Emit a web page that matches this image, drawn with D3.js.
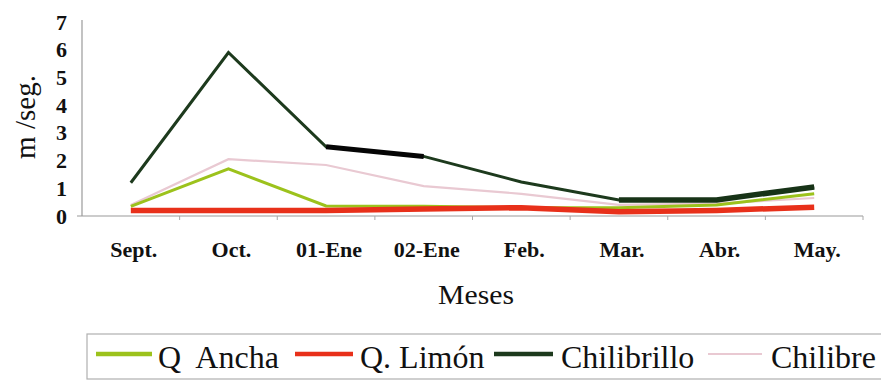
<!DOCTYPE html>
<html>
<head>
<meta charset="utf-8">
<script src="https://cdn.jsdelivr.net/npm/d3@7"></script>
<style>
  html, body { margin: 0; padding: 0; background: #fff; }
  svg { display: block; }
  svg text { font-family: "Liberation Serif", "DejaVu Serif", serif !important; fill: #111; }
</style>
</head>
<body>
<svg id="chart" width="881" height="382" font-family="Liberation Serif"></svg>
<script>
// Velocidad media de la corriente por mes (m/seg.)
const months = ["Sept.", "Oct.", "01-Ene", "02-Ene", "Feb.", "Mar.", "Abr.", "May."];
const qAncha      = [0.35, 1.7, 0.36, 0.35, 0.3, 0.3, 0.4, 0.8];
const qLimon      = [0.2, 0.2, 0.2, 0.25, 0.3, 0.15, 0.2, 0.32];
const chilibrillo = [1.2, 5.9, 2.5, 2.15, 1.23, 0.58, 0.58, 1.05];
const chilibre    = [0.4, 2.05, 1.84, 1.08, 0.8, 0.4, 0.45, 0.65];
const yTicks = [0, 1, 2, 3, 4, 5, 6, 7];

const series = [
  { name: "Q  Ancha",    values: qAncha,      color: "#9cc21c", width: 3 },
  { name: "Q. Limón",    values: qLimon,      color: "#e8301a", width: 5.5 },
  { name: "Chilibrillo", values: chilibrillo, color: "#1d3a1d", width: 3 },
  { name: "Chilibre",    values: chilibre,    color: "#e9c9d2", width: 2.2 }
];

const svg = d3.select("#chart");
const SERIF = "'Liberation Serif', serif";

const x = d3.scaleBand().domain(months).range([82, 863]);
const cx = d => x(d) + x.bandwidth() / 2;
const y = d3.scaleLinear().domain([0, 7]).range([216, 22]);

// Y axis
const yAxis = svg.append("g").attr("transform", "translate(82,0)")
  .call(d3.axisLeft(y).tickValues(yTicks).tickFormat(d3.format("d")).tickSize(0).tickPadding(15));
yAxis.attr("font-family", null).attr("font-size", null);
yAxis.select(".domain").attr("stroke", "#9a9a9a").attr("stroke-width", 1.2)
  .attr("d", `M0,20V${y(0)}`);
yAxis.selectAll("text")
  .style("font-family", SERIF)
  .style("font-size", "22px").style("font-weight", "bold").attr("fill", "#111");

// X axis: category boundaries as ticks, labels at band centres
const xAxis = svg.append("g").attr("transform", `translate(0,${y(0)})`);
xAxis.append("line").attr("x1", 77).attr("x2", 863).attr("y1", 0).attr("y2", 0)
  .attr("stroke", "#9a9a9a").attr("stroke-width", 1.2);
xAxis.selectAll("line.b").data(months.slice(1).concat(["end"]))
  .join("line").attr("class", "b")
  .attr("x1", d => d === "end" ? 863 : x(d)).attr("x2", d => d === "end" ? 863 : x(d))
  .attr("y1", 0).attr("y2", 4).attr("stroke", "#a8a8a8");
xAxis.selectAll("text").data(months).join("text")
  .attr("x", d => cx(d) + 3).attr("y", 41)
  .attr("text-anchor", "middle")
  .style("font-family", SERIF)
  .style("font-size", "22px").style("font-weight", "bold")
  .text(d => d);

// Axis titles
svg.append("text")
  .attr("transform", "translate(476,304) scale(1.1,1)")
  .attr("text-anchor", "middle")
  .style("font-family", SERIF).style("font-size", "27px").text("Meses");
svg.append("text").attr("transform", "translate(35,117) rotate(-90)")
  .attr("text-anchor", "middle")
  .style("font-family", SERIF).style("font-size", "29px").text("m /seg.");

// Lines
const line = d3.line().x((d, i) => cx(months[i])).y(d => y(d));
const order = [3, 0, 2, 1]; // Chilibre bajo, Q. Limón encima
order.forEach(k => {
  const s = series[k];
  svg.append("path").datum(s.values)
    .attr("d", line).attr("fill", "none")
    .attr("stroke", s.color).attr("stroke-width", s.width)
    .attr("stroke-linejoin", "miter").attr("stroke-linecap", "butt");
});

// Tramos remarcados de Chilibrillo
const segLine = d3.line().x(d => cx(months[d])).y(d => y(chilibrillo[d]));
svg.append("path").attr("d", segLine([2, 3])).attr("fill", "none")
  .attr("stroke", "#050505").attr("stroke-width", 5);
svg.append("path").attr("d", segLine([5, 6, 7]))
  .attr("fill", "none").attr("stroke", "#173317").attr("stroke-width", 5.5);

// Legend
const lg = svg.append("g");
lg.append("rect").attr("x", 87).attr("y", 334).attr("width", 820).attr("height", 45)
  .attr("fill", "none").attr("stroke", "#b0b0b0").attr("stroke-width", 1.2);
const legendItems = [
  { s: series[0], x1: 96,  x2: 152, tx: 158 },
  { s: series[1], x1: 295, x2: 353, tx: 360 },
  { s: series[2], x1: 494, x2: 553, tx: 561 },
  { s: series[3], x1: 708, x2: 762, tx: 771 }
];
legendItems.forEach(it => {
  lg.append("line").attr("x1", it.x1).attr("x2", it.x2).attr("y1", 354).attr("y2", 354)
    .attr("stroke", it.s.color).attr("stroke-width", it.s === series[3] ? 2 : 4.5);
  lg.append("text").attr("x", it.tx).attr("y", 368)
    .attr("xml:space", "preserve")
    .style("white-space", "pre")
    .style("font-family", SERIF).style("font-size", "32px")
    .text(it.s.name);
});
</script>
</body>
</html>
